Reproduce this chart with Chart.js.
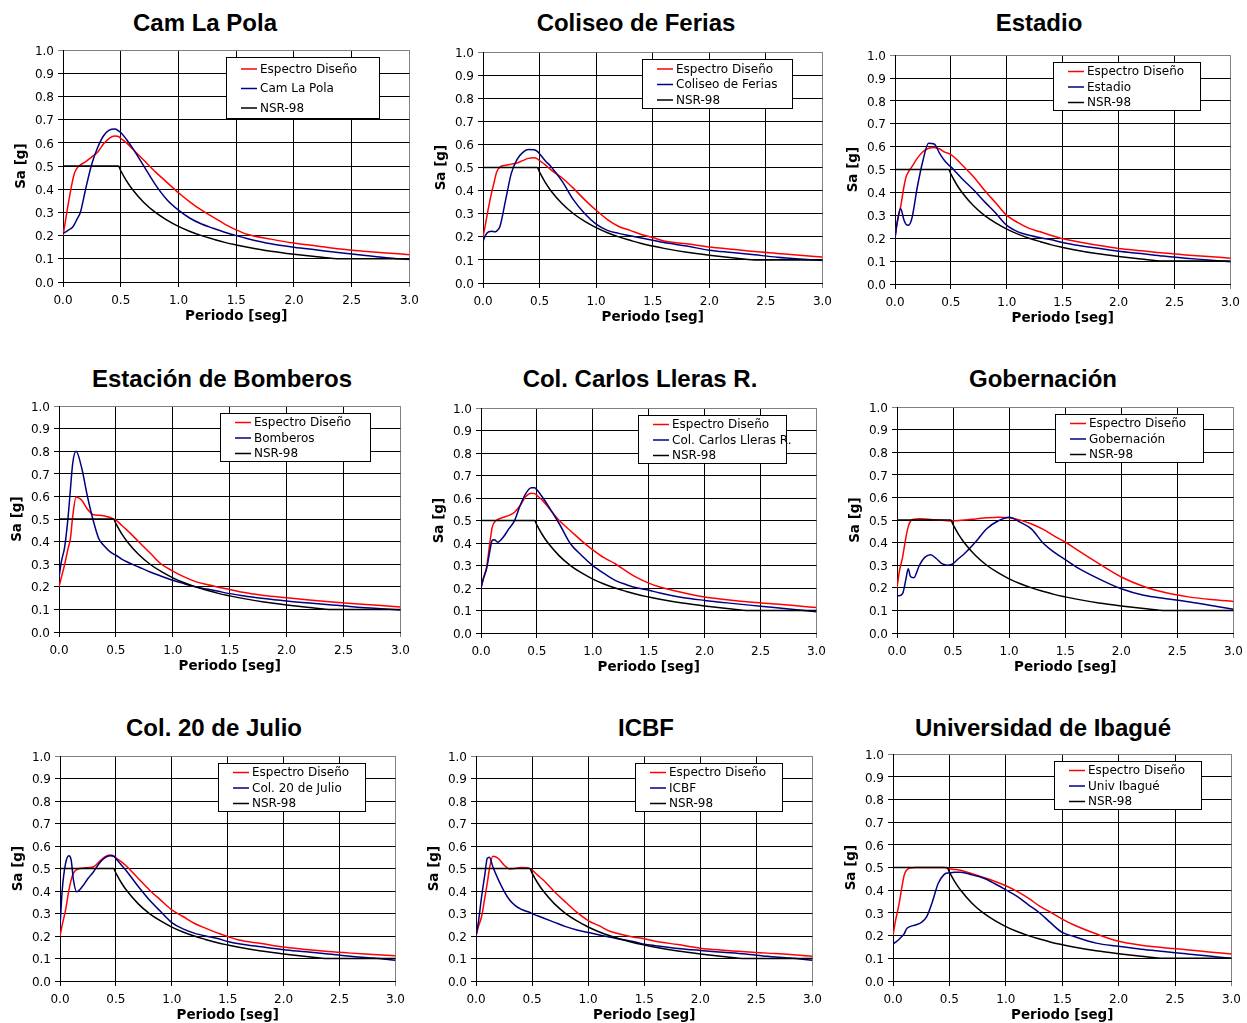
<!DOCTYPE html>
<html>
<head>
<meta charset="utf-8">
<script src="https://cdn.jsdelivr.net/npm/chart.js@4.4.1/dist/chart.umd.min.js"></script>
<style>
  body { margin: 0; background: #fff; width: 1247px; height: 1023px; overflow: hidden; position: relative; }
  .ttl { position: absolute; width: 500px; text-align: center; font: bold 24px "Liberation Sans", Arial, sans-serif; line-height: 28px; color: #000; }
  canvas { position: absolute; }
</style>
</head>
<body>
<script>
// Periodo [seg] - common sampling for every spectrum
const periods = [0, 0.02, 0.05, 0.08, 0.1, 0.12, 0.15, 0.2, 0.25, 0.3, 0.35, 0.4, 0.45, 0.48, 0.5, 0.55, 0.6, 0.7, 0.8, 0.9,
                 1.0, 1.1, 1.2, 1.3, 1.4, 1.5, 1.6, 1.8, 2.0, 2.2, 2.4, 2.6, 2.8, 3.0];

// NSR-98 (same in every panel)
const nsr98 = [0.5, 0.5, 0.5, 0.5, 0.5, 0.5, 0.5, 0.5, 0.5, 0.5, 0.5, 0.5, 0.5, 0.5, 0.48, 0.436, 0.40, 0.343, 0.30, 0.267,
               0.24, 0.218, 0.20, 0.185, 0.171, 0.16, 0.15, 0.133, 0.12, 0.109, 0.10, 0.10, 0.10, 0.10];

/* ---------- Espectro Diseño / registro por estación ---------- */
const polaDiseno = [0.20, 0.26, 0.35, 0.43, 0.47, 0.49, 0.505, 0.52, 0.54, 0.56, 0.595, 0.62, 0.63, 0.628, 0.62, 0.60, 0.575, 0.525, 0.475, 0.43,
                    0.385, 0.345, 0.31, 0.28, 0.25, 0.225, 0.205, 0.185, 0.168, 0.155, 0.142, 0.133, 0.125, 0.118];
const polaRegistro = [0.21, 0.215, 0.225, 0.235, 0.25, 0.27, 0.30, 0.41, 0.51, 0.58, 0.63, 0.655, 0.66, 0.652, 0.645, 0.615, 0.58, 0.50, 0.42, 0.355,
                      0.31, 0.275, 0.25, 0.232, 0.215, 0.20, 0.187, 0.165, 0.15, 0.138, 0.126, 0.115, 0.105, 0.097];

const coliseoDiseno = [0.20, 0.25, 0.33, 0.40, 0.44, 0.48, 0.502, 0.51, 0.515, 0.52, 0.53, 0.54, 0.543, 0.538, 0.53, 0.512, 0.49, 0.455, 0.41, 0.36,
                       0.315, 0.275, 0.245, 0.228, 0.21, 0.197, 0.182, 0.17, 0.156, 0.146, 0.136, 0.128, 0.12, 0.113];
const coliseoRegistro = [0.18, 0.205, 0.222, 0.224, 0.222, 0.225, 0.245, 0.36, 0.475, 0.535, 0.565, 0.578, 0.577, 0.57, 0.56, 0.53, 0.505, 0.44, 0.36, 0.30,
                         0.255, 0.228, 0.215, 0.205, 0.195, 0.185, 0.175, 0.16, 0.142, 0.132, 0.122, 0.112, 0.104, 0.097];

const estadioDiseno = [0.20, 0.27, 0.337, 0.425, 0.47, 0.49, 0.512, 0.55, 0.578, 0.593, 0.597, 0.59, 0.575, 0.57, 0.565, 0.545, 0.52, 0.47, 0.41, 0.355,
                       0.30, 0.268, 0.243, 0.228, 0.212, 0.198, 0.188, 0.17, 0.155, 0.145, 0.135, 0.127, 0.12, 0.113];
const estadioRegistro = [0.20, 0.27, 0.33, 0.28, 0.26, 0.257, 0.285, 0.425, 0.54, 0.615, 0.612, 0.57, 0.535, 0.52, 0.512, 0.486, 0.46, 0.413, 0.36, 0.31,
                         0.256, 0.228, 0.213, 0.202, 0.193, 0.181, 0.172, 0.157, 0.143, 0.133, 0.122, 0.113, 0.105, 0.097];

const bomberosDiseno = [0.20, 0.24, 0.30, 0.37, 0.413, 0.51, 0.598, 0.583, 0.544, 0.52, 0.517, 0.514, 0.507, 0.50, 0.495, 0.473, 0.45, 0.40, 0.35, 0.30,
                        0.27, 0.244, 0.223, 0.21, 0.198, 0.188, 0.177, 0.162, 0.152, 0.142, 0.133, 0.125, 0.118, 0.111];
const bomberosRegistro = [0.24, 0.31, 0.377, 0.51, 0.63, 0.745, 0.80, 0.725, 0.60, 0.495, 0.413, 0.38, 0.355, 0.345, 0.34, 0.323, 0.31, 0.288, 0.266, 0.247,
                          0.229, 0.214, 0.20, 0.19, 0.18, 0.17, 0.162, 0.148, 0.137, 0.128, 0.12, 0.111, 0.104, 0.097];

const llerasDiseno = [0.20, 0.24, 0.293, 0.404, 0.47, 0.493, 0.505, 0.515, 0.523, 0.537, 0.567, 0.607, 0.622, 0.62, 0.612, 0.59, 0.56, 0.50, 0.455, 0.41,
                      0.37, 0.335, 0.308, 0.275, 0.245, 0.222, 0.205, 0.18, 0.16, 0.148, 0.138, 0.13, 0.122, 0.113];
const llerasRegistro = [0.20, 0.24, 0.286, 0.367, 0.412, 0.415, 0.404, 0.427, 0.464, 0.50, 0.567, 0.62, 0.646, 0.646, 0.637, 0.604, 0.567, 0.486, 0.397, 0.345,
                        0.30, 0.265, 0.234, 0.215, 0.20, 0.19, 0.178, 0.158, 0.145, 0.134, 0.124, 0.115, 0.105, 0.094];

const gobernacionDiseno = [0.20, 0.27, 0.336, 0.425, 0.47, 0.495, 0.504, 0.506, 0.505, 0.503, 0.50, 0.499, 0.497, 0.496, 0.497, 0.498, 0.50, 0.505, 0.51, 0.513,
                           0.51, 0.50, 0.483, 0.46, 0.43, 0.403, 0.37, 0.307, 0.248, 0.206, 0.178, 0.16, 0.148, 0.14];
const gobernacionRegistro = [0.165, 0.165, 0.174, 0.24, 0.285, 0.25, 0.245, 0.30, 0.336, 0.347, 0.33, 0.307, 0.30, 0.302, 0.307, 0.33, 0.351, 0.403, 0.462, 0.496,
                             0.513, 0.49, 0.46, 0.40, 0.358, 0.325, 0.292, 0.24, 0.196, 0.167, 0.152, 0.138, 0.122, 0.105];

const julioDiseno = [0.20, 0.25, 0.316, 0.405, 0.45, 0.48, 0.496, 0.502, 0.504, 0.508, 0.53, 0.552, 0.56, 0.557, 0.548, 0.53, 0.508, 0.456, 0.405, 0.36,
                     0.316, 0.287, 0.257, 0.235, 0.215, 0.198, 0.182, 0.167, 0.151, 0.14, 0.131, 0.124, 0.118, 0.112];
const julioRegistro = [0.24, 0.405, 0.523, 0.557, 0.538, 0.45, 0.397, 0.42, 0.456, 0.486, 0.523, 0.548, 0.557, 0.555, 0.545, 0.515, 0.486, 0.42, 0.36, 0.309,
                       0.26, 0.232, 0.213, 0.2, 0.19, 0.176, 0.166, 0.152, 0.139, 0.13, 0.12, 0.11, 0.102, 0.092];

const icbfDiseno = [0.20, 0.24, 0.287, 0.375, 0.434, 0.50, 0.555, 0.545, 0.516, 0.498, 0.50, 0.505, 0.504, 0.50, 0.493, 0.471, 0.449, 0.397, 0.35, 0.305,
                    0.269, 0.245, 0.22, 0.207, 0.196, 0.188, 0.177, 0.162, 0.146, 0.137, 0.13, 0.124, 0.118, 0.11];
const icbfRegistro = [0.20, 0.257, 0.375, 0.478, 0.545, 0.551, 0.508, 0.45, 0.40, 0.36, 0.335, 0.32, 0.31, 0.305, 0.30, 0.29, 0.28, 0.261, 0.242, 0.227,
                      0.216, 0.205, 0.195, 0.185, 0.176, 0.164, 0.157, 0.145, 0.136, 0.128, 0.12, 0.11, 0.102, 0.092];

const ibagueDiseno = [0.20, 0.26, 0.33, 0.417, 0.468, 0.488, 0.498, 0.50, 0.50, 0.50, 0.50, 0.50, 0.50, 0.498, 0.495, 0.492, 0.488, 0.473, 0.457, 0.44,
                      0.42, 0.395, 0.365, 0.33, 0.302, 0.273, 0.248, 0.208, 0.175, 0.158, 0.147, 0.138, 0.128, 0.119];
const ibagueRegistro = [0.162, 0.17, 0.182, 0.197, 0.209, 0.23, 0.24, 0.247, 0.258, 0.285, 0.351, 0.43, 0.468, 0.476, 0.476, 0.48, 0.48, 0.468, 0.454, 0.43,
                        0.402, 0.373, 0.336, 0.30, 0.255, 0.214, 0.197, 0.167, 0.153, 0.14, 0.13, 0.12, 0.11, 0.10];

const titles = ["Cam La Pola", "Coliseo de Ferias", "Estadio", "Estación de Bomberos", "Col. Carlos Lleras R.", "Gobernación",
                "Col. 20 de Julio", "ICBF", "Universidad de Ibagué"];
const stationLabels = ["Cam La Pola", "Coliseo de Ferias", "Estadio", "Bomberos", "Col. Carlos Lleras R.", "Gobernación",
                       "Col. 20 de Julio", "ICBF", "Univ Ibagué"];
const disenoSeries = [polaDiseno, coliseoDiseno, estadioDiseno, bomberosDiseno, llerasDiseno, gobernacionDiseno, julioDiseno, icbfDiseno, ibagueDiseno];
const registroSeries = [polaRegistro, coliseoRegistro, estadioRegistro, bomberosRegistro, llerasRegistro, gobernacionRegistro, julioRegistro, icbfRegistro, ibagueRegistro];
const yTicks = [0, 0.1, 0.2, 0.3, 0.4, 0.5, 0.6, 0.7, 0.8, 0.9, 1.0];
const xTicks = [0, 0.5, 1.0, 1.5, 2.0, 2.5, 3.0];

/* ---------- layout (page pixels) ---------- */
// plot area [left, top, right, bottom]
const plotBoxes = [[63, 50, 409, 282], [483, 52, 822, 283], [895, 55, 1230, 284],
                   [59, 406, 400, 632], [481, 408, 816, 633], [897, 407, 1233, 633],
                   [60, 756, 395, 981], [476, 756, 812, 981], [893, 754, 1231, 981]];
const titleSpots = [[205, 22], [636, 22], [1039, 22], [222, 378], [640, 378], [1043, 378], [214, 727], [646, 727], [1043, 727]];
// legend box [width, height, first row, row gap]
const legendSizes = [[153, 61, 12, 19.5], [150, 49, 10, 15.5], [147, 48, 9.5, 15.5], [150, 48, 9.5, 15.5], [148, 48, 9.5, 15.5],
                     [148, 48, 9.5, 15.5], [147, 48, 9.5, 15.5], [147, 48, 9.5, 15.5], [147, 48, 9.5, 15.5]];

const PAD_L = 50, PAD_T = 10, PAD_R = 12, PAD_B = 43;
const FONT = '"DejaVu Sans", Verdana, sans-serif';

Chart.defaults.font.family = FONT;
Chart.defaults.color = '#000';

// legend drawn inside the plot, Excel style
const boxLegend = {
  id: 'boxLegend',
  afterDraw(chart, args, opts) {
    const { ctx, chartArea } = chart;
    const [w, h, first, gap] = opts.size;
    const x = Math.round(chartArea.right - 30 - w), y = Math.round(chartArea.top + 7);
    ctx.save();
    ctx.fillStyle = '#fff';
    ctx.fillRect(x, y, w, h);
    ctx.strokeStyle = '#000'; ctx.lineWidth = 1;
    ctx.strokeRect(x + 0.5, y + 0.5, w, h);
    ctx.font = '12px ' + FONT;
    ctx.textBaseline = 'middle';
    chart.data.datasets.forEach((ds, i) => {
      const ry = y + first + i * gap;
      ctx.strokeStyle = ds.borderColor; ctx.lineWidth = 1.5;
      ctx.beginPath(); ctx.moveTo(x + 15, ry); ctx.lineTo(x + 31, ry); ctx.stroke();
      ctx.fillStyle = '#000';
      ctx.fillText(ds.label, x + 34, ry + 0.5);
    });
    ctx.restore();
  }
};

function series(values) {
  return periods.map((t, i) => ({ x: t, y: values[i] }));
}

function panelConfig(i) {
  const line = (label, vals, color, order) => ({
    label, data: series(vals), borderColor: color, backgroundColor: color, borderWidth: 1.5,
    pointRadius: 0, fill: false, cubicInterpolationMode: 'monotone', order
  });
  return {
    type: 'line',
    data: {
      datasets: [
        line('Espectro Diseño', disenoSeries[i], '#ff0000', 3),
        line(stationLabels[i], registroSeries[i], '#000080', 2),
        line('NSR-98', nsr98, '#000000', 1)
      ]
    },
    options: {
      responsive: false,
      maintainAspectRatio: false,
      animation: false,
      events: [],
      layout: { padding: { left: 0, top: PAD_T, right: PAD_R, bottom: 0 } },
      plugins: { legend: { display: false }, tooltip: { enabled: false }, boxLegend: { size: legendSizes[i] } },
      scales: {
        x: {
          type: 'linear', min: 0, max: 3,
          afterBuildTicks: s => { s.ticks = xTicks.map(v => ({ value: v })); },
          afterFit: s => { s.height = PAD_B; },
          ticks: { font: { size: 12 }, padding: 7, maxRotation: 0, callback: v => v.toFixed(1) },
          grid: { color: c => (c.tick && c.tick.value === 3 ? '#808080' : '#000'), tickLength: 5, lineWidth: 1 },
          border: { color: '#000', width: 1 },
          title: { display: true, text: 'Periodo [seg]', font: { size: 13.5, weight: 'bold' }, padding: 0 }
        },
        y: {
          min: 0, max: 1,
          afterBuildTicks: s => { s.ticks = yTicks.map(v => ({ value: v })); },
          afterFit: s => { s.width = PAD_L; },
          ticks: { font: { size: 12 }, padding: 4, labelOffset: 1.5, callback: v => v.toFixed(1) },
          grid: { color: c => (c.tick && c.tick.value === 1 ? '#808080' : '#000'), tickLength: 5, lineWidth: 1 },
          border: { color: '#000', width: 1 },
          title: { display: true, text: 'Sa [g]', font: { size: 13.5, weight: 'bold' }, padding: 0 }
        }
      }
    },
    plugins: [boxLegend]
  };
}

function makePanel(i) {
  const [L, T, R, B] = plotBoxes[i];
  let w = R - L + PAD_L + PAD_R, h = B - T + PAD_T + PAD_B;

  const t = document.createElement('div');
  t.className = 'ttl';
  t.textContent = titles[i];
  t.style.left = (titleSpots[i][0] - 250) + 'px';
  t.style.top = (titleSpots[i][1] - 13) + 'px';
  document.body.appendChild(t);

  let cv, chart;
  // build, measure the plot area, rebuild with the corrected canvas size
  for (let pass = 0; pass < 3; pass++) {
    cv = document.createElement('canvas');
    cv.width = w; cv.height = h;
    cv.style.width = w + 'px'; cv.style.height = h + 'px';
    document.body.appendChild(cv);
    chart = new Chart(cv, panelConfig(i));
    const ca = chart.chartArea;
    const dw = Math.round((R - L) - (ca.right - ca.left)), dh = Math.round((B - T) - (ca.bottom - ca.top));
    if (!dw && !dh) break;
    if (pass === 2) break;
    chart.destroy(); cv.remove();
    w += dw; h += dh;
  }
  cv.style.left = (L - chart.chartArea.left) + 'px';
  cv.style.top = (T - chart.chartArea.top) + 'px';
}

titles.forEach((_, i) => makePanel(i));
</script>
</body>
</html>
